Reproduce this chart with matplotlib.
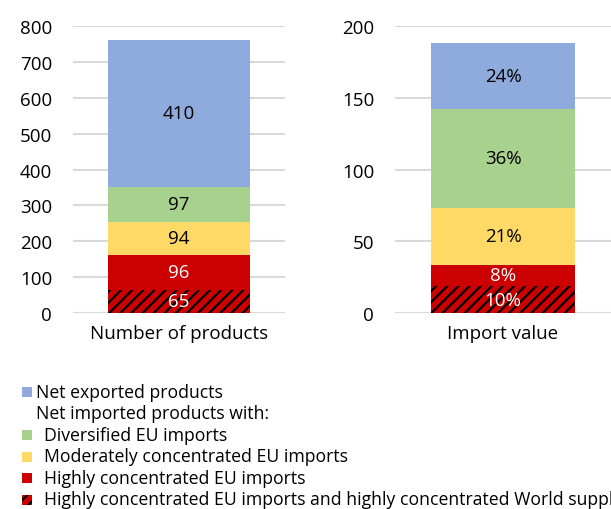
import matplotlib
matplotlib.use('Agg')
import matplotlib.pyplot as plt
from matplotlib.patches import Rectangle

plt.rcParams['font.family'] = 'Open Sans'
plt.rcParams['hatch.linewidth'] = 1.6
plt.rcParams['hatch.color'] = 'black'

# stacked segments, bottom to top
series = ['Highly concentrated EU imports and highly concentrated World supply',
          'Highly concentrated EU imports',
          'Moderately concentrated EU imports',
          'Diversified EU imports',
          'Net exported products']
colors = ['#cc0000', '#cc0000', '#ffd966', '#a9d18e', '#8faadc']
hatches = ['///', None, None, None, None]
text_colors = ['white', 'white', 'black', 'black', 'black']

n_products = [65, 96, 94, 97, 410]
import_value = [18.5, 15.3, 39.7, 68.5, 46.0]

fig = plt.figure(figsize=(6.11, 5.10), dpi=100)
ax1 = fig.add_axes([0.1195, 0.3843, 0.347, 0.5627])
ax2 = fig.add_axes([0.6465, 0.3843, 0.3535, 0.5627])


def stacked(ax, values, labels, cat, ymax, step):
    bottom = 0
    for v, c, h, tc, lab in zip(values, colors, hatches, text_colors, labels):
        ax.bar(0, v, width=0.67, bottom=bottom, color=c, hatch=h,
               edgecolor='black' if h else c, linewidth=0, zorder=3)
        ax.text(0, bottom + v / 2, lab, ha='center', va='center',
                color=tc, fontsize=13.5, zorder=4)
        bottom += v
    ax.set_xlim(-0.5, 0.5)
    ax.set_ylim(0, ymax)
    ax.set_yticks(range(0, ymax + 1, step))
    ax.set_xticks([0])
    ax.set_xticklabels([cat])
    ax.tick_params(axis='y', length=0, pad=15, labelsize=13.5)
    ax.tick_params(axis='x', length=0, pad=8, labelsize=13.5)
    ax.yaxis.grid(True, color='#d9d9d9', linewidth=1.5, zorder=0)
    ax.set_axisbelow(True)
    for s in ax.spines.values():
        s.set_visible(False)


stacked(ax1, n_products, [str(v) for v in n_products],
        'Number of products', 800, 100)
total = sum(import_value)
stacked(ax2, import_value, ['%d%%' % round(v / total * 100) for v in import_value],
        'Import value', 200, 50)

# legend below the panels
W, H = 611, 510
rows = [
    (colors[4], None, 'Net exported products', 36),
    (None, None, 'Net imported products with:', 36),
    (colors[3], None, series[3], 44),
    (colors[2], None, series[2], 44),
    (colors[1], None, series[1], 44),
    (colors[0], '///', series[0], 44),
]
y = 393
for c, h, label, tx in rows:
    if c is not None:
        fig.patches.append(Rectangle((22 / W, 1 - (y + 5) / H), 10 / W, 10 / H,
                                     transform=fig.transFigure, facecolor=c,
                                     hatch=h, edgecolor='black' if h else c,
                                     linewidth=0))
    fig.text(tx / W, 1 - y / H, label, ha='left', va='center', fontsize=12.7)
    y += 21.5

fig.savefig('out.png', dpi=100)
